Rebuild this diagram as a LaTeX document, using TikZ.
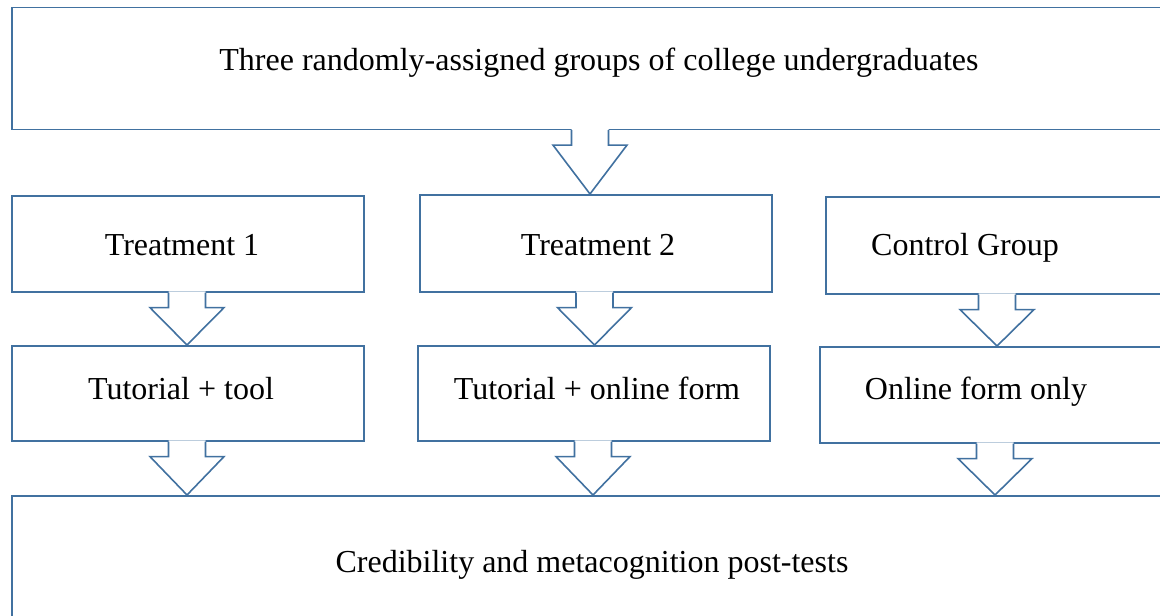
\documentclass[tikz,border=0pt]{standalone}
\usepackage{fontspec}
\setmainfont{Liberation Serif}
\usetikzlibrary{calc}
\definecolor{edge}{RGB}{65,113,160}
\tikzset{
  box/.style={draw=edge, line width=1.6pt, fill=white, anchor=north west, inner sep=0pt},
  txt/.style={font=\fontsize{32}{38}\selectfont, inner sep=0pt, anchor=base},
  arr/.style={draw=edge, line width=1.6pt, line join=miter}
}
% #1 x centre, #2 upper node, #3 lower node
\newcommand\blockarr[3]{%
  \path (#1,0) coordinate (c) (c |- #2.south) coordinate (top) (c |- #3.north) coordinate (tip);
  \fill[white] ($(top)+(-18.5,-1.2)$) -- ($(top)+(-18.5,15)$) -- ($(top)+(-37,15)$) -- (tip)
     -- ($(top)+(37,15)$) -- ($(top)+(18.5,15)$) -- ($(top)+(18.5,-1.2)$) -- cycle;
  \draw[arr] ($(top)+(-18.5,0)$) -- ($(top)+(-18.5,15)$) -- ($(top)+(-37,15)$) -- (tip)
     -- ($(top)+(37,15)$) -- ($(top)+(18.5,15)$) -- ($(top)+(18.5,0)$);
}
\begin{document}
\begin{tikzpicture}[x=1pt,y=-1pt]
\useasboundingbox (0,0) rectangle (1160,616);
\clip (0,0) rectangle (1160,616);
\fill[white] (0,0) rectangle (1160,616);
% boxes
\node[box, minimum width=1180pt, minimum height=122pt] (top) at (11,6.5) {};
\node[box, minimum width=352pt, minimum height=96pt] (t1) at (11,195) {};
\node[box, minimum width=352pt, minimum height=97pt] (t2) at (419,194) {};
\node[box, minimum width=360pt, minimum height=97pt] (cg) at (825,196) {};
\node[box, minimum width=352pt, minimum height=95pt] (u1) at (11,345) {};
\node[box, minimum width=352pt, minimum height=95pt] (u2) at (417,345) {};
\node[box, minimum width=360pt, minimum height=96pt] (u3) at (819,346) {};
\node[box, minimum width=1180pt, minimum height=140pt] (post) at (11,495) {};
% texts
\node[txt] (ltop) at (599,70.5) {Three randomly-assigned groups of college undergraduates};
\node[txt] (lt1) at (182,255) {Treatment 1};
\node[txt] (lt2) at (598,255) {Treatment 2};
\node[txt] (lcg) at (965,255) {Control Group};
\node[txt] (lu1) at (181,399) {Tutorial + tool};
\node[txt] (lu2) at (597,399) {Tutorial + online form};
\node[txt] (lu3) at (976,399) {Online form only};
\node[txt] (lpost) at (592,572.5) {Credibility and metacognition post-tests};
% arrows
\blockarr{590}{top}{t2}
\blockarr{187}{t1}{u1}
\blockarr{594.5}{t2}{u2}
\blockarr{997}{cg}{u3}
\blockarr{187}{u1}{post}
\blockarr{593}{u2}{post}
\blockarr{995}{u3}{post}
\end{tikzpicture}
\end{document}
